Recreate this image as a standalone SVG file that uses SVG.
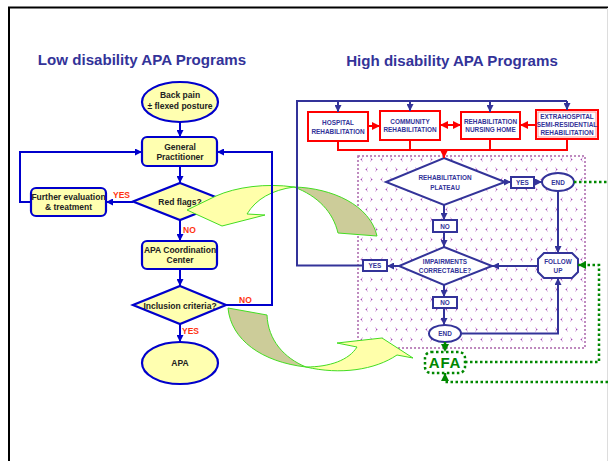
<svg xmlns="http://www.w3.org/2000/svg" width="608" height="461" viewBox="0 0 608 461">
<style>
.lt{font-family:"Liberation Sans",Arial,sans-serif;font-weight:bold;font-size:8.5px;fill:#222;text-anchor:middle}
.rt{font-family:"Liberation Sans",Arial,sans-serif;font-weight:bold;font-size:6.4px;fill:#333399;text-anchor:middle}
.red{font-family:"Liberation Sans",Arial,sans-serif;font-weight:bold;font-size:8.5px;fill:#ff3311}
.title{font-family:"Liberation Sans",Arial,sans-serif;font-weight:bold;font-size:15.1px;fill:#333399;text-anchor:middle}
.ln{fill:#ffffb0;stroke:#0000cc;stroke-width:2.2}
.rn{fill:#fff;stroke:#333399;stroke-width:2}
.rb{fill:#fff;stroke:#ff0000;stroke-width:2}
.bl{fill:none;stroke:#0000cc;stroke-width:2}
.nv{fill:none;stroke:#333399;stroke-width:2}
.rd{fill:none;stroke:#ff0000;stroke-width:2}
.gr{fill:none;stroke:#008800;stroke-width:2.5;stroke-dasharray:2.5 2.5}
</style>
<defs>
<marker id="ab" viewBox="0 0 10 10" refX="10" refY="5" markerWidth="7" markerHeight="7" markerUnits="userSpaceOnUse" orient="auto"><path d="M0,0 L10,5 L0,10 z" fill="#0000cc"/></marker>
<marker id="an" viewBox="0 0 10 10" refX="10" refY="5" markerWidth="7" markerHeight="7" markerUnits="userSpaceOnUse" orient="auto"><path d="M0,0 L10,5 L0,10 z" fill="#333399"/></marker>
<marker id="ar" viewBox="0 0 10 10" refX="10" refY="5" markerWidth="8" markerHeight="8" markerUnits="userSpaceOnUse" orient="auto-start-reverse"><path d="M0,0 L10,5 L0,10 z" fill="#ff0000"/></marker>
<marker id="ag" viewBox="0 0 10 10" refX="10" refY="5" markerWidth="8" markerHeight="8" markerUnits="userSpaceOnUse" orient="auto"><path d="M0,0 L10,5 L0,10 z" fill="#008800"/></marker>
<pattern id="pat" width="20" height="20" patternUnits="userSpaceOnUse" x="358" y="156">
<g fill="none" stroke="#d8a8e0" stroke-width="1">
<path d="M5,1.5 L2.5,3.5 L5,5.5"/><path d="M12,1.5 L14.5,3.5 L12,5.5"/>
<path d="M10,11.5 L7.5,13.5 L10,15.5"/><path d="M17,11.5 L19.5,13.5 L17,15.5"/>
</g>
<g fill="#a050b0"><rect x="3" y="3" width="1" height="1"/><rect x="13" y="3" width="1" height="1"/><rect x="8" y="13" width="1" height="1"/><rect x="18" y="13" width="1" height="1"/></g>
</pattern>
</defs>

<g id="frame">
<line x1="8" y1="7.5" x2="608" y2="7.5" stroke="#000" stroke-width="2"/>
<line x1="9" y1="7" x2="9" y2="461" stroke="#000" stroke-width="2"/>
<line x1="607.5" y1="8" x2="607.5" y2="461" stroke="#ddd" stroke-width="1"/>
</g>

<text class="title" x="142" y="65">Low disability APA Programs</text>
<text class="title" x="452" y="66">High disability APA Programs</text>

<rect id="pattern-area" x="358" y="156" width="227" height="192" fill="url(#pat)" stroke="#aa66aa" stroke-width="1.5" stroke-dasharray="2 2"/>

<g id="back-pain"><ellipse class="ln" cx="180" cy="102" rx="38" ry="20"/><text class="lt" x="180" y="98">Back pain</text><text class="lt" x="180" y="109">± flexed posture</text></g>
<g id="gp"><rect class="ln" x="142" y="137" width="75" height="29" rx="5"/><text class="lt" x="180" y="150">General</text><text class="lt" x="180" y="160">Practitioner</text></g>
<g id="red-flags"><polygon class="ln" points="180,183 227,201.5 180,220 133,201.5"/><text class="lt" x="180" y="205">Red flags?</text></g>
<g id="further"><rect class="ln" x="31" y="188" width="75" height="28" rx="5"/><text class="lt" x="68.5" y="200">Further evaluation</text><text class="lt" x="68.5" y="210">&amp; treatment</text></g>
<g id="apa-coord"><rect class="ln" x="142" y="241" width="75" height="28" rx="5"/><text class="lt" x="180" y="253">APA Coordination</text><text class="lt" x="180" y="263">Center</text></g>
<g id="inclusion"><polygon class="ln" points="180,286 226,305 180,324 133,305"/><text class="lt" x="180" y="309">Inclusion criteria?</text></g>
<g id="apa"><ellipse class="ln" cx="180" cy="363" rx="38" ry="21"/><text class="lt" x="180" y="366">APA</text></g>

<g id="curved-arrows" stroke="#44dd22" stroke-width="1">
<path d="M294,187 C332,188 370,205 377,236 L338,233 C333,212 318,196 294,187 Z" fill="#cccc99"/>
<path d="M294,187 C266,183 236,187 216,196 L187,210 L222,226 L265,215 L247,214 C256,199 272,190 294,187 Z" fill="#ffffaa"/>
<path d="M228,308 L267,315 C268,340 284,358 306,367 C262,362 231,340 228,308 Z" fill="#cccc99"/>
<path d="M306,367 C330,367 349,360 357,347 L337,343 L382,338 L413,358 L397,355 C375,370 340,375 306,367 Z" fill="#ffffaa"/>
</g>

<g id="hospital"><rect class="rb" x="308" y="112" width="60" height="29"/><text class="rt" x="338" y="125">HOSPITAL</text><text class="rt" x="338" y="133.5">REHABILITATION</text></g>
<g id="community"><rect class="rb" x="380" y="111" width="60" height="29"/><text class="rt" x="410" y="123.5">COMMUNITY</text><text class="rt" x="410" y="132">REHABILITATION</text></g>
<g id="nursing"><rect class="rb" x="461" y="112" width="59" height="27"/><text class="rt" x="490.5" y="123.5">REHABILITATION</text><text class="rt" x="490.5" y="131.5">NURSING HOME</text></g>
<g id="extrahospital"><rect class="rb" x="536" y="110" width="62" height="29"/><rect x="538" y="112" width="58" height="25" fill="none" stroke="#ff9999" stroke-width="1"/><text class="rt" x="567" y="118.5">EXTRAHOSPITAL</text><text class="rt" x="567" y="126.8">SEMI-RESIDENTIAL</text><text class="rt" x="567" y="135">REHABILITATION</text></g>

<g id="plateau"><polygon class="rn" points="444,158 505,182 444,205 386,182"/><text class="rt" x="445" y="180">REHABILITATION</text><text class="rt" x="445" y="189.5">PLATEAU</text></g>
<g id="yes1"><rect class="rn" x="511" y="177" width="23" height="11"/><text class="rt" x="522.5" y="185">YES</text></g>
<g id="end1"><ellipse class="rn" cx="558" cy="182" rx="16" ry="9"/><text class="rt" x="558" y="184.5">END</text></g>
<g id="follow-up"><polygon class="rn" points="544,253 572,253 578,259 578,272 572,278 544,278 538,272 538,259"/><text class="rt" x="558" y="264">FOLLOW</text><text class="rt" x="558" y="273">UP</text></g>
<g id="no1"><rect class="rn" x="433" y="220" width="24" height="12"/><text class="rt" x="445" y="228.5">NO</text></g>
<g id="impairments"><polygon class="rn" points="444,247 492,266 444,285 399,266"/><text class="rt" x="445" y="264">IMPAIRMENTS</text><text class="rt" x="445" y="273">CORRECTABLE?</text></g>
<g id="yes2"><rect class="rn" x="363" y="260" width="24" height="11"/><text class="rt" x="375" y="268">YES</text></g>
<g id="no2"><rect class="rn" x="433" y="297" width="24" height="11"/><text class="rt" x="445" y="305">NO</text></g>
<g id="end2"><ellipse class="rn" cx="445" cy="333.5" rx="16" ry="8.5"/><text class="rt" x="445" y="336">END</text></g>
<g id="afa"><rect x="425" y="352" width="40" height="21" rx="6" fill="#fff" class="gr"/><text x="445" y="368" text-anchor="middle" font-family="'Liberation Sans',Arial,sans-serif" font-weight="bold" font-size="15" letter-spacing="0.8" fill="#008800">AFA</text></g>

<g id="connectors">
<path class="bl" d="M180,122 V137" marker-end="url(#ab)"/>
<path class="bl" d="M180,166 V183" marker-end="url(#ab)"/>
<path class="bl" d="M133,202 H106" marker-end="url(#ab)"/>
<path class="bl" d="M31,202 H20 V152 H142" marker-end="url(#ab)"/>
<path class="bl" d="M180,220 V241" marker-end="url(#ab)"/>
<path class="bl" d="M180,269 V286" marker-end="url(#ab)"/>
<path class="bl" d="M226,305 H272 V152 H217" marker-end="url(#ab)"/>
<path class="bl" d="M180,324 V342" marker-end="url(#ab)"/>

<path class="nv" d="M363,265.5 H297 V101 H567"/>
<path class="nv" d="M338,101 V112" marker-end="url(#an)"/>
<path class="nv" d="M410,101 V111" marker-end="url(#an)"/>
<path class="nv" d="M490,101 V112" marker-end="url(#an)"/>
<path class="nv" d="M567,101 V110" marker-end="url(#an)"/>

<path class="rd" d="M368,126 H380" marker-end="url(#ar)"/>
<path class="rd" d="M440,125 H461" marker-start="url(#ar)" marker-end="url(#ar)"/>
<path class="rd" d="M536,125 H520" marker-end="url(#ar)"/>
<path class="rd" stroke-width="1.5" d="M338,141 V150 H567 V139 M410,140 V150 M490,139 V150"/>
<path class="rd" d="M444,150 V158" marker-end="url(#ar)"/>

<path class="nv" d="M505,182 H511" marker-end="url(#an)"/>
<path class="nv" d="M534,182 H542" marker-end="url(#an)"/>
<path class="nv" d="M558,191 V253" marker-end="url(#an)"/>
<path class="nv" d="M538,266 H492" marker-end="url(#an)"/>
<path class="nv" d="M444,205 V220" marker-end="url(#an)"/>
<path class="nv" d="M444,232 V247" marker-end="url(#an)"/>
<path class="nv" d="M399,266 H387" marker-end="url(#an)"/>
<path class="nv" d="M444,285 V297" marker-end="url(#an)"/>
<path class="nv" d="M444,308 V325" marker-end="url(#an)"/>
<path class="nv" d="M461,333.5 H558 V278" marker-end="url(#an)"/>

<path class="gr" d="M574,182 H608"/>
<path class="gr" d="M445,342 V352" marker-end="url(#ag)"/>
<path class="gr" d="M465,362 H599 V265 H578" marker-end="url(#ag)"/>
<path class="gr" d="M608,382 H445 V373" marker-end="url(#ag)"/>
</g>

<g id="labels">
<text class="red" x="113" y="198">YES</text>
<text class="red" x="183" y="233">NO</text>
<text class="red" x="239" y="303">NO</text>
<text class="red" x="182" y="334">YES</text>
</g>
</svg>
